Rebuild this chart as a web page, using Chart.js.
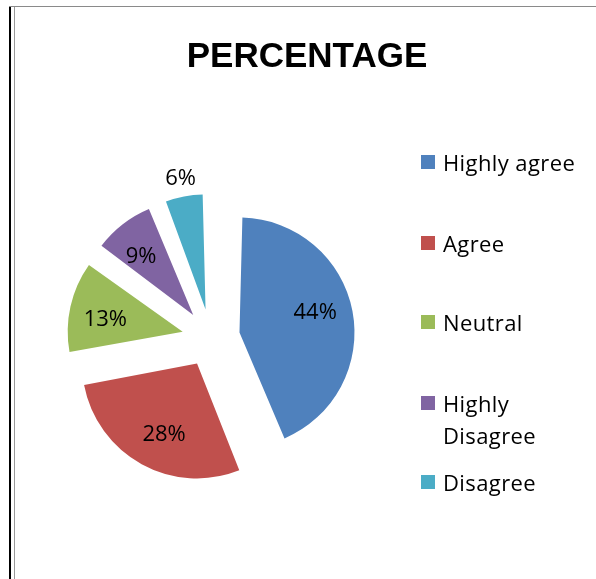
<!DOCTYPE html>
<html>
<head>
<meta charset="utf-8">
<script src="https://cdn.jsdelivr.net/npm/chart.js@4"></script>
<style>
    html, body { margin: 0; padding: 0; background: #fff; }
    #wrap { position: relative; width: 596px; height: 579px; overflow: hidden; }
    #chart { position: absolute; left: 0; top: 0; }
    .frame-outer { position: absolute; left: 9px; top: 7px; width: 2px; height: 572px; background: #000; }
    .frame-top { position: absolute; left: 9px; top: 6px; width: 587px; height: 1px; background: #8a8a8a; }
    .frame-inner { position: absolute; left: 14px; top: 7px; width: 1px; height: 572px; background: #9a9a9a; }
    #title { position: absolute; left: 0; width: 614px; top: 35px; text-align: center;
        font-family: "Liberation Sans", Arial, sans-serif; font-weight: bold; font-size: 35px; color: #000; }
    #legend { position: absolute; left: 421px; top: 0; font-family: "Open Sans", sans-serif; font-size: 22px; color: #000; }
    .item { position: absolute; left: 0; white-space: nowrap; line-height: 32px; }
    .swatch { position: absolute; left: 0; width: 14px; height: 14px; }
    .item span.txt { position: absolute; left: 22px; top: 0; letter-spacing: 0.4px; }
</style>
</head>
<body>
<div id="wrap">
    <div class="frame-top"></div>
    <div class="frame-outer"></div>
    <div class="frame-inner"></div>
    <canvas id="chart" width="596" height="579"></canvas>
    <div id="title">PERCENTAGE</div>
    <div id="legend"></div>
</div>
<script>
const categories = ['Highly agree', 'Agree', 'Neutral', 'Highly Disagree', 'Disagree'];
const legendLines = [['Highly agree'], ['Agree'], ['Neutral'], ['Highly', 'Disagree'], ['Disagree']];
const percentages = [44, 28, 13, 9, 6];
const colors = ['#4F81BD', '#C0504D', '#9BBB59', '#8064A2', '#4BACC6'];
const legendRowY = [146, 227, 306, 387, 466];

// legend (html so the two-line entry wraps like the original)
const legend = document.getElementById('legend');
legendLines.forEach((lines, i) => {
    const item = document.createElement('div');
    item.className = 'item';
    item.style.top = legendRowY[i] + 'px';
    item.innerHTML = `<div class="swatch" style="background:${colors[i]}; top:9px"></div>` +
        `<span class="txt">${lines.join('<br>')}</span>`;
    legend.appendChild(item);
});

// chart.js grows an offset arc's radius depending on its angle;
// undo that so every exploded slice keeps the same radius (like excel)
const baseArcDraw = Chart.ArcElement.prototype.draw;
Chart.ArcElement.prototype.draw = function (ctx) {
    const shift = (this.options.offset || 0) / 4;
    const fix = 1 - Math.sin(Math.min(Math.PI, this.circumference || 0));
    const keep = this.outerRadius;
    this.outerRadius = keep - shift * fix;
    baseArcDraw.call(this, ctx);
    this.outerRadius = keep;
};

// percentage labels on the slices (arcs are moved by offset/4)
const sliceLabels = {
    id: 'sliceLabels',
    afterDatasetsDraw(chart) {
        const ctx = chart.ctx;
        const meta = chart.getDatasetMeta(0);
        ctx.save();
        ctx.font = '22px "Open Sans", sans-serif';
        ctx.fillStyle = '#000';
        ctx.textAlign = 'center';
        ctx.textBaseline = 'middle';
        meta.data.forEach((arc, i) => {
            const p = arc.getProps(['x', 'y', 'startAngle', 'endAngle', 'outerRadius'], true);
            const outside = percentages[i] < 8;
            const mid = (p.startAngle + p.endAngle) / 2 - (outside ? 0 : 0.05);
            const shift = (arc.options.offset || 0) / 4;
            const f = outside ? 1.16 : 0.68;
            const d = shift + f * p.outerRadius;
            ctx.fillText(percentages[i] + '%', p.x + Math.cos(mid) * d, p.y + Math.sin(mid) * d);
        });
        ctx.restore();
    }
};

new Chart(document.getElementById('chart').getContext('2d'), {
    type: 'pie',
    data: {
        labels: categories,
        datasets: [{
            data: percentages,
            backgroundColor: colors,
            borderWidth: 0,
            offset: 116
        }]
    },
    options: {
        responsive: false,
        animation: false,
        radius: 115,
        layout: { padding: { left: 81, top: 208, right: 255, bottom: 111 } },
        plugins: {
            legend: { display: false },
            title: { display: false },
            tooltip: { enabled: false }
        }
    },
    plugins: [sliceLabels]
});
</script>
</body>
</html>
